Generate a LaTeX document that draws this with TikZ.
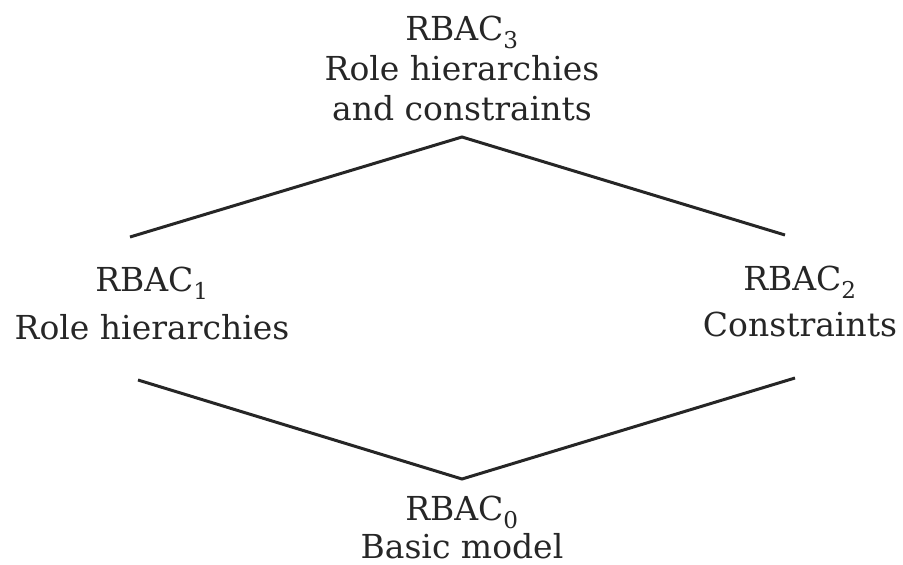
\documentclass[tikz,border=0pt]{standalone}
\usepackage{fontspec}
\setmainfont{DejaVu Serif}
\usetikzlibrary{positioning}

\begin{document}
\begin{tikzpicture}[x=1pt, y=-1pt,
    rolebox/.style={align=center, inner sep=0pt, text=black!85,
      font=\fontsize{33}{40}\selectfont},
    link/.style={line width=3pt, black!85}]
  \useasboundingbox (0,0) rectangle (903,565);
  % models
  \node [rolebox] (rbac3) at (462,68) {RBAC\textsubscript{3}\\Role hierarchies\\and constraints};
  \node [rolebox] (rbac1) at (152,303) {RBAC\textsubscript{1}\\[8pt]Role hierarchies};
  \node [rolebox] (rbac2) at (800,301) {RBAC\textsubscript{2}\\[6pt]Constraints};
  \node [rolebox, font=\fontsize{33}{38}\selectfont] (rbac0) at (462,527) {RBAC\textsubscript{0}\\Basic model};
  % corners of the lattice
  \coordinate (top) at (462,137);
  \coordinate (midl) at (130,237);
  \coordinate (midr) at (785,235);
  \coordinate (lowl) at (138,380);
  \coordinate (lowr) at (795,378);
  \coordinate (bot) at (462,479);
  \draw [link] (midl) -- (top) -- (midr); % upper edges
  \draw [link] (lowl) -- (bot) -- (lowr); % lower edges
\end{tikzpicture}
\end{document}
